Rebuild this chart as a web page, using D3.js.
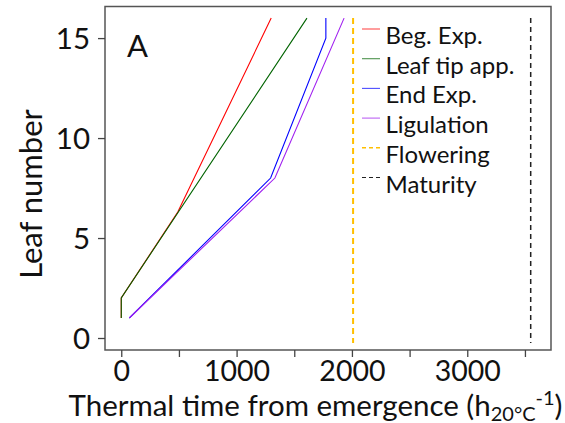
<!DOCTYPE html>
<html><head><meta charset="utf-8">
<script src="https://cdn.jsdelivr.net/npm/d3@7"></script>
<style>
html,body{margin:0;padding:0;background:#fff;}
svg{display:block;font-family:Lato,"Open Sans",sans-serif;}
</style></head>
<body><svg id="c" width="565" height="423"></svg>
<script>
// ---- data (thermal time, leaf number) ----
const seriesNames = ["Beg. Exp.", "Leaf tip app.", "End Exp.", "Ligulation", "Flowering", "Maturity"];
const begExp   = [[0, 1], [0, 2], [490, 6.3], [1300, 16]];
const leafTip  = [[0, 1], [0, 2], [1610, 16]];
const endExp   = [[70, 1], [1295, 8], [1774, 15], [1774, 16]];
const ligulation = [[70, 1], [1332, 8], [1932, 16]];
const flowering = 2010;
const maturity  = 3550;
const xTicks = [0, 500, 1000, 1500, 2000, 2500, 3000, 3500];
const xTickLabels = [0, 1000, 2000, 3000];
const yTicks = [0, 5, 10, 15];

const colors = ["#ff0000", "#006400", "#0000ff", "#a020f0", "#ffbf00", "#222222"];

const svg = d3.select("#c");
const L = 105, R = 551, T = 6.5, B = 350;
const x = d3.scaleLinear().domain([-141, 3726]).range([L, R]);
const y = d3.scaleLinear().domain([-0.6, 16.58]).range([B, T]);

const line = d3.line().x(d => x(d[0])).y(d => y(d[1]));

// series lines
[begExp, leafTip, endExp, ligulation].forEach((s, i) => {
  svg.append("path").attr("d", line(s)).attr("fill", "none")
    .attr("stroke", colors[i]).attr("stroke-width", 1.1);
});

// vertical dashed lines
svg.append("line").attr("x1", x(flowering)).attr("x2", x(flowering))
  .attr("y1", y(16)).attr("y2", y(-0.25))
  .attr("stroke", colors[4]).attr("stroke-width", 2).attr("stroke-dasharray", "6,4");
svg.append("line").attr("x1", x(maturity)).attr("x2", x(maturity))
  .attr("y1", y(16)).attr("y2", y(-0.25))
  .attr("stroke", colors[5]).attr("stroke-width", 1.5).attr("stroke-dasharray", "5,4");

// box
svg.append("rect").attr("x", L).attr("y", T).attr("width", R - L).attr("height", B - T)
  .attr("fill", "none").attr("stroke", "#555").attr("stroke-width", 1.5);

// x axis
const xAxis = d3.axisBottom(x).tickValues(xTicks).tickSize(7)
  .tickFormat(d => xTickLabels.includes(d) ? d : "");
const gx = svg.append("g").attr("transform", `translate(0,${B})`).call(xAxis);
gx.select(".domain").remove();
gx.selectAll(".tick line").attr("stroke", "#444").attr("stroke-width", 1.3);
gx.selectAll(".tick text").attr("font-size", 28.5).attr("fill", "#111")
  .attr("font-family", "Lato").attr("dy", "0").attr("y", 30.5);

// y axis
const yAxis = d3.axisLeft(y).tickValues(yTicks).tickSize(7);
const gy = svg.append("g").attr("transform", `translate(${L},0)`).call(yAxis);
gy.select(".domain").remove();
gy.selectAll(".tick line").attr("stroke", "#444").attr("stroke-width", 1.3);
gy.selectAll(".tick text").attr("font-size", 29.5).attr("fill", "#111")
  .attr("font-family", "Lato").attr("x", -15).attr("dy", "0.35em");

// panel label
svg.append("text").attr("x", 127).attr("y", 57).attr("font-size", 31)
  .attr("fill", "#111").text("A");

// axis titles
const xt = svg.append("text").attr("x", 315.5).attr("y", 415.5).attr("text-anchor", "middle")
  .attr("font-size", 29.5).attr("fill", "#111");
xt.append("tspan").text("Thermal time from emergence (h");
xt.append("tspan").attr("font-size", 20).attr("dy", 5).text("20°C");
xt.append("tspan").attr("font-size", 20).attr("dy", -16).text("-1");
xt.append("tspan").attr("dy", 11).text(")");

svg.append("text").attr("transform", "translate(42,194) rotate(-90)")
  .attr("text-anchor", "middle").attr("font-size", 31).attr("fill", "#111")
  .text("Leaf number");

// legend
const lg = svg.append("g");
seriesNames.forEach((n, i) => {
  const yy = 29 + i * 29.7;
  lg.append("line").attr("x1", 362).attr("x2", 380).attr("y1", yy).attr("y2", yy)
    .attr("stroke", colors[i]).attr("stroke-width", i === 4 ? 1.5 : 1.1)
    .attr("stroke-opacity", i < 4 ? 0.7 : 1)
    .attr("stroke-dasharray", i >= 4 ? "4,3" : null);
  lg.append("text").attr("x", 385.5).attr("y", yy + 15).attr("font-size", 24)
    .attr("fill", "#111").text(n);
});
</script></body></html>
